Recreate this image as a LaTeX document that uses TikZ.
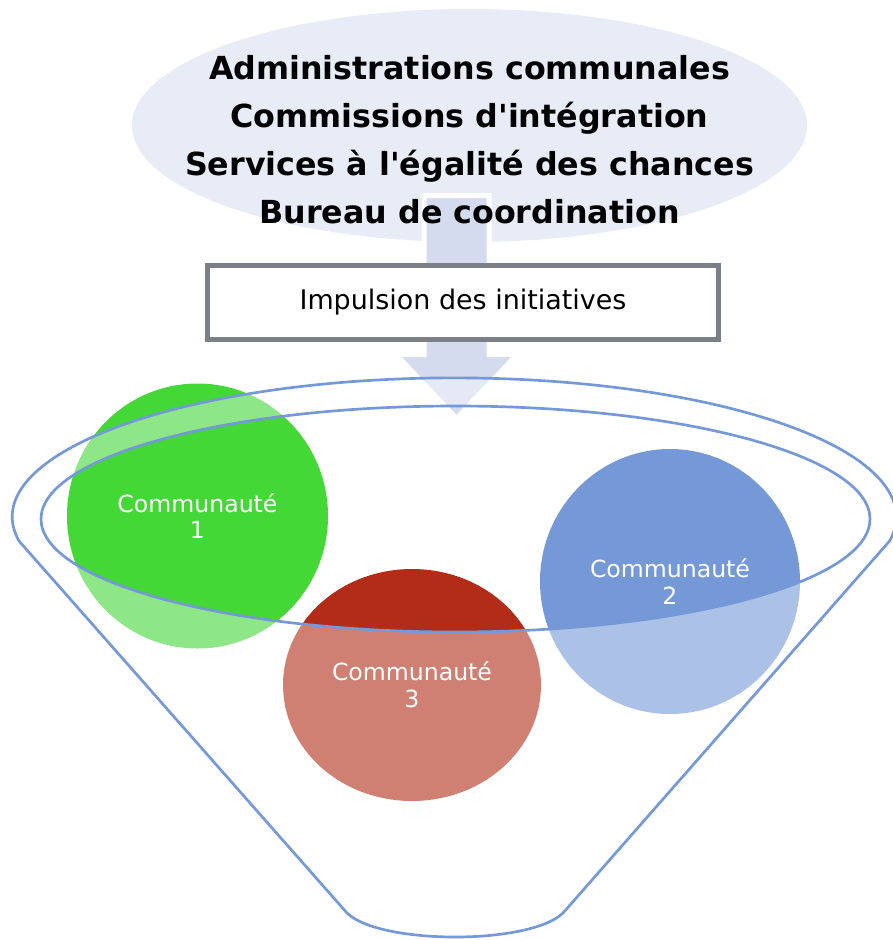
\documentclass[tikz,border=0pt]{standalone}
\usepackage{fontspec}
\setmainfont{DejaVu Sans}
\usetikzlibrary{shapes.geometric}
\definecolor{topfill}{HTML}{E8ECF7}
\definecolor{arrowfill}{HTML}{D4DBEF}
\definecolor{boxline}{HTML}{7B7F88}
\definecolor{commugreen}{HTML}{44D836}
\definecolor{commured}{HTML}{B22C17}
\definecolor{commublue}{HTML}{7499D6}
\definecolor{funnelline}{HTML}{7598D8}

\begin{document}
\begin{tikzpicture}[x=0.75pt,y=0.75pt,
  commu/.style={ellipse, inner sep=0pt, text=white, align=center,
    font=\fontsize{17.7}{20}\selectfont},
  funnel/.style={funnelline, line width=2pt}]
  \useasboundingbox (0,0) rectangle (893,-940);
  % actors and the push arrow
  \node [ellipse, fill=topfill, minimum width=506.25pt, minimum height=174.75pt] (actors) at (469.5,-125.5) {};
  \draw [white, line width=3.75pt, fill=arrowfill] (424,-195.5) -- (489,-195.5) -- (489,-354.5) -- (517,-354.5)
    -- (456.5,-418.5) -- (396,-354.5) -- (424,-354.5) -- cycle;
  \node [font=\bfseries\fontsize{23.8}{36}\selectfont, align=center] (actorstext) at (469.5,-140)
    {Administrations communales\\Commissions d\textquotesingle intégration\\Services à l\textquotesingle égalité des chances\\Bureau de coordination};
  \node [draw=boxline, line width=3.5pt, fill=white, minimum width=383.5pt, minimum height=55.8pt,
    font=\fontsize{20.2}{24}\selectfont] (impulsion) at (463,-302.5) {Impulsion des initiatives};
  % communities
  \node [commu, fill=commugreen, minimum width=195.75pt, minimum height=198.75pt] (c1) at (197.5,-516) {Communauté\\1};
  \node [commu, fill=commublue, minimum width=195pt, minimum height=198.75pt] (c2) at (670,-581.5) {Communauté\\2};
  \node [commu, fill=commured, minimum width=193.5pt, minimum height=174pt] (c3) at (412,-685) {Communauté\\3};
  % funnel
  \fill [white, opacity=0.4, even odd rule] (19,-541) arc [start angle=190, end angle=-10, x radius=442, y radius=139]
    -- (563,-913) .. controls (530,-945) and (380,-945) .. (347,-913) -- cycle
    (455.5,-519) ellipse [x radius=414.5, y radius=113];
  \draw [funnel] (19,-541) arc [start angle=190, end angle=-10, x radius=442, y radius=139]
    -- (563,-913) .. controls (530,-945) and (380,-945) .. (347,-913) -- cycle;
  \draw [funnel] (455.5,-519) ellipse [x radius=414.5, y radius=113];
\end{tikzpicture}
\end{document}
